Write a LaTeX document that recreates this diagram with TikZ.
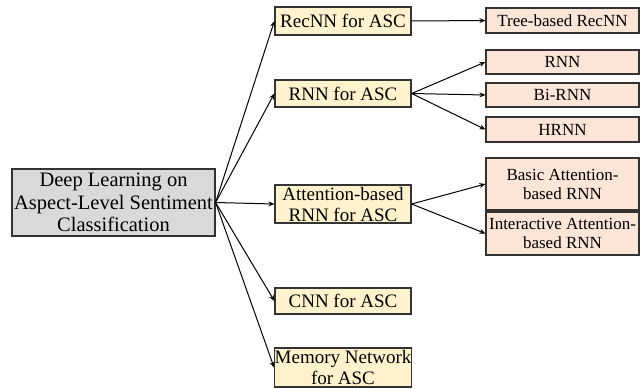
\documentclass[tikz,border=0pt]{standalone}
\usepackage{fontspec}
\setmainfont{Liberation Serif}
\usetikzlibrary{arrows.meta}
\definecolor{rootfill}{HTML}{D9D9D9}
\definecolor{midfill}{HTML}{FFF2CC}
\definecolor{leaffill}{HTML}{FBE5D6}
\definecolor{edgecol}{HTML}{333333}
\begin{document}
\begin{tikzpicture}[x=1pt,y=-1pt,
  box/.style={draw=edgecol,line width=1.2pt,inner sep=0pt,align=center,anchor=center},
  rootbox/.style={box,fill=rootfill,minimum width=203pt,minimum height=67pt,font=\fontsize{20.5}{22.5}\selectfont},
  midbox/.style={box,fill=midfill,minimum width=136pt,font=\fontsize{19}{21}\selectfont},
  leafbox/.style={box,fill=leaffill,minimum width=153pt,font=\fontsize{17}{19}\selectfont},
  conn/.style={line width=1pt,-{Stealth[length=6pt,width=5pt,inset=2pt]}}
]
\useasboundingbox (0,0) rectangle (644,388);
\node[rootbox] (root) at (113.5,202.5) {Deep Learning on\\Aspect-Level Sentiment\\Classification};
\node[midbox,minimum height=28pt] (recnn) at (343,21) {RecNN for ASC};
\node[midbox,minimum height=27pt] (rnn) at (343,93.5) {RNN for ASC};
\node[midbox,minimum height=38pt] (attn) at (343,204) {Attention-based\\RNN for ASC};
\node[midbox,minimum height=26pt] (cnn) at (343,301) {CNN for ASC};
\node[midbox,minimum height=39pt] (mem) at (343,367.5) {Memory Network\\for ASC};
\node[leafbox,minimum height=25pt] (tree) at (562.5,20.5) {Tree-based RecNN};
\node[leafbox,minimum height=24pt] (lrnn) at (562.5,62) {RNN};
\node[leafbox,minimum height=24pt] (birnn) at (562.5,95) {Bi-RNN};
\node[leafbox,minimum height=25pt] (hrnn) at (562.5,129.5) {HRNN};
\node[leafbox,minimum height=52pt] (basic) at (562.5,184) {Basic Attention-\\based RNN};
\node[leafbox,minimum height=43pt] (inter) at (562.5,233.5) {Interactive Attention-\\based RNN};
\foreach \t in {recnn,rnn,attn,cnn,mem} \draw[conn] (root.east) -- (\t.west);
\draw[conn] (recnn.east) -- (tree.west);
\foreach \t in {lrnn,birnn,hrnn} \draw[conn] (rnn.east) -- (\t.west);
\foreach \t in {basic,inter} \draw[conn] (attn.east) -- (\t.west);
\end{tikzpicture}
\end{document}
